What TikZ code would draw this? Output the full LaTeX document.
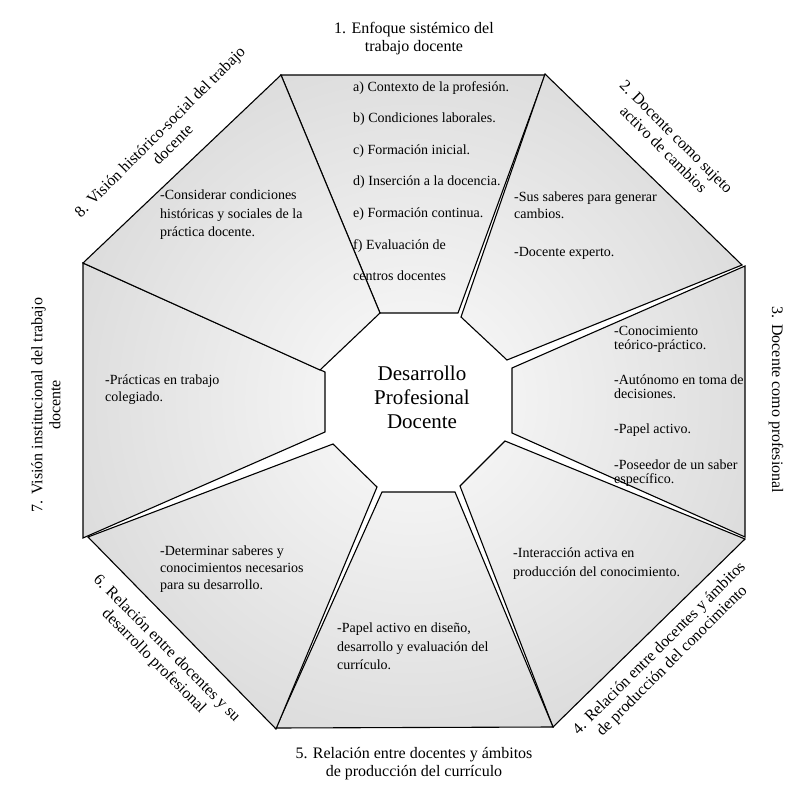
\documentclass[tikz,border=0pt]{standalone}
\usepackage{fontspec}
\setmainfont{Liberation Serif}
\definecolor{segout}{gray}{0.74}
\definecolor{segin}{gray}{0.985}
\tikzset{
  segline/.style={draw=black, line width=1.1pt, line join=miter},
  lab/.style={font=\fontsize{16}{18}\selectfont, align=center, inner sep=0pt},
  body/.style={font=\fontsize{14}{17}\selectfont, align=left, inner sep=0pt, anchor=north west},
  centre/.style={font=\fontsize{21}{24}\selectfont, align=center, inner sep=0pt}
}
\newcommand\segpoly[1]{%
  \begin{scope}
    \clip #1;
    \shade[inner color=segin, outer color=segout] (414,400) circle (720pt);
  \end{scope}
  \draw[segline] #1;}
\begin{document}
\begin{tikzpicture}[x=1pt,y=-1pt]
\useasboundingbox[fill=white] (0,0) rectangle (807,798);
% segments
\segpoly{(281,75) -- (545,75) -- (458,313) -- (380,313) -- cycle}
\segpoly{(545,74) -- (742,265) -- (507,360) -- (461,317) -- cycle}
\segpoly{(745,266) -- (745,537) -- (512,433) -- (512,368) -- cycle}
\segpoly{(745,539) -- (553,727) -- (460,486) -- (505,441) -- cycle}
\segpoly{(553,727) -- (276,728) -- (382,492) -- (455,492) -- cycle}
\segpoly{(276,729) -- (88,537) -- (333,444) -- (377,487) -- cycle}
\segpoly{(83,263) -- (83,538) -- (325,432) -- (325,372) -- cycle}
\segpoly{(83,263) -- (281,75) -- (380,313) -- (320,370) -- cycle}
% centre
\node[centre] (c) at (422,397) {Desarrollo\\Profesional\\Docente};
% outer labels
\node[lab] (l1) at (414,39) {1. Enfoque sistémico del\\trabajo docente};
\node[lab, rotate=-45] (l2) at (670,143) {2. Docente como sujeto\\activo de cambios};
\node[lab, rotate=-90] (l3) at (776,400) {3. Docente como profesional};
\node[lab, rotate=45] (l4) at (666,655) {4. Relación entre docentes y ámbitos\\de producción del conocimiento};
\node[lab] (l5) at (414,764) {5. Relación entre docentes y ámbitos\\de producción del currículo};
\node[lab, rotate=-45] (l6) at (160,655) {6. Relación entre docentes y su\\desarrollo profesional};
\node[lab, rotate=90] (l7) at (46,405) {7. Visión institucional del trabajo\\docente};
\node[lab, rotate=45] (l8) at (166,138) {8. Visión histórico-social del trabajo\\docente};
% body texts
\node[body, font=\fontsize{14}{31.6}\selectfont] (t1) at (353,81) {a) Contexto de la profesión.\\b) Condiciones laborales.\\c) Formación inicial.\\d) Inserción a la docencia.\\e) Formación continua.\\f) Evaluación de\\centros docentes};
\node[body] (t2) at (514,192) {-Sus saberes para generar\\cambios.\\[21pt]-Docente experto.};
\node[body, font=\fontsize{14}{14}\selectfont] (t3) at (614,326) {-Conocimiento\\teórico-práctico.\\[21pt]-Autónomo en toma de\\decisiones.\\[21pt]-Papel activo.\\[22pt]-Poseedor de un saber\\específico.};
\node[body, font=\fontsize{14}{19}\selectfont] (t4) at (513,548) {-Interacción activa en\\producción del conocimiento.};
\node[body, font=\fontsize{14}{18.5}\selectfont] (t5) at (337,623) {-Papel activo en diseño,\\desarrollo y evaluación del\\currículo.};
\node[body] (t6) at (160,546) {-Determinar saberes y\\conocimientos necesarios\\para su desarrollo.};
\node[body] (t7) at (105,375) {-Prácticas en trabajo\\colegiado.};
\node[body, font=\fontsize{14}{18.5}\selectfont] (t8) at (160,190) {-Considerar condiciones\\históricas y sociales de la\\práctica docente.};
\end{tikzpicture}
\end{document}
